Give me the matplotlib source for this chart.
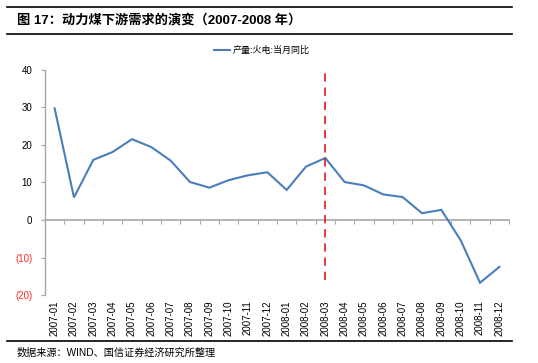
import numpy as np
import matplotlib
matplotlib.use("Agg")
from matplotlib import pyplot as plt
from matplotlib.lines import Line2D

plt.rcParams['font.family'] = ['Liberation Sans', 'Noto Sans CJK SC']
plt.rcParams['axes.unicode_minus'] = False

# data
months = ['2007-01', '2007-02', '2007-03', '2007-04', '2007-05', '2007-06',
          '2007-07', '2007-08', '2007-09', '2007-10', '2007-11', '2007-12',
          '2008-01', '2008-02', '2008-03', '2008-04', '2008-05', '2008-06',
          '2008-07', '2008-08', '2008-09', '2008-10', '2008-11', '2008-12']
yoy = [29.7, 6.0, 16.0, 18.1, 21.5, 19.4, 15.8, 10.1, 8.6, 10.6, 11.9, 12.7,
       8.0, 14.2, 16.5, 10.1, 9.2, 6.8, 6.1, 1.8, 2.7, -5.4, -16.7, -12.5]
series_name = '产量:火电:当月同比'
marker_month = '2008-03'
yticks = [40, 30, 20, 10, 0, -10, -20]

title = '图 17：动力煤下游需求的演变（2007-2008 年）'
source = '数据来源：WIND、国信证券经济研究所整理'

blue = '#4a7ebb'
grey = '#a6a6a6'

fig = plt.figure(figsize=(5.38, 3.63), dpi=100)
ax = fig.add_axes([0.0836, 0.187, 0.8625, 0.621])

x = np.arange(len(months))
ax.plot(x, yoy, color=blue, lw=1.5, solid_joinstyle='miter')

# vertical dashed marker
xi = months.index(marker_month)
ax.vlines(xi, -16, 40, colors='#e41a1c', linestyles=(0, (5, 3.5)), lw=1.2)

ax.set_xlim(-0.5, len(months) - 0.5)
ax.set_ylim(-20, 40)

# y axis
ax.set_yticks(yticks)
labels = []
for v in yticks:
    labels.append('(%d)' % abs(v) if v < 0 else '%d' % v)
ax.set_yticklabels(labels)
for lab, v in zip(ax.get_yticklabels(), yticks):
    lab.set_color('#ff2a2a' if v < 0 else 'black')
ax.tick_params(axis='y', length=3, width=0.8, color=grey, labelsize=7, pad=6)

# x labels at the bottom
ax.set_xticks(x)
ax.set_xticklabels(months, rotation=90, fontsize=7)
ax.tick_params(axis='x', length=0, pad=4)

for s in ['top', 'right', 'bottom']:
    ax.spines[s].set_visible(False)
ax.spines['left'].set_color(grey)
ax.spines['left'].set_linewidth(1.0)

# zero axis with category ticks
zax = ax.secondary_xaxis(0, transform=ax.transData)
zax.set_xticks(np.arange(len(months) + 1) - 0.5)
zax.set_xticklabels([])
zax.tick_params(axis='x', length=3, width=0.8, color=grey, direction='out')
zax.spines['bottom'].set_color(grey)
zax.spines['bottom'].set_linewidth(1.2)

# legend
handle = Line2D([], [], color=blue, lw=1.5)
fig.legend([handle], [series_name], loc='center', bbox_to_anchor=(0.487, 0.862),
           frameon=False, fontsize=6.5, handlelength=1.8, handletextpad=0.3)

# header / footer
fig.add_artist(Line2D([7 / 538, 512 / 538], [1 - 7 / 363, 1 - 7 / 363], color='black', lw=1.2))
fig.add_artist(Line2D([7 / 538, 512 / 538], [1 - 34 / 363, 1 - 34 / 363], color='black', lw=1.2))
fig.add_artist(Line2D([7 / 538, 512 / 538], [1 - 341 / 363, 1 - 341 / 363], color='black', lw=1.2))
fig.text(17 / 538, 1 - 20 / 363, title, fontsize=9.5, fontweight='bold', va='center', ha='left')
fig.text(17 / 538, 1 - 353 / 363, source, fontsize=7.3, va='center', ha='left')

fig.savefig('out.png', dpi=100)
